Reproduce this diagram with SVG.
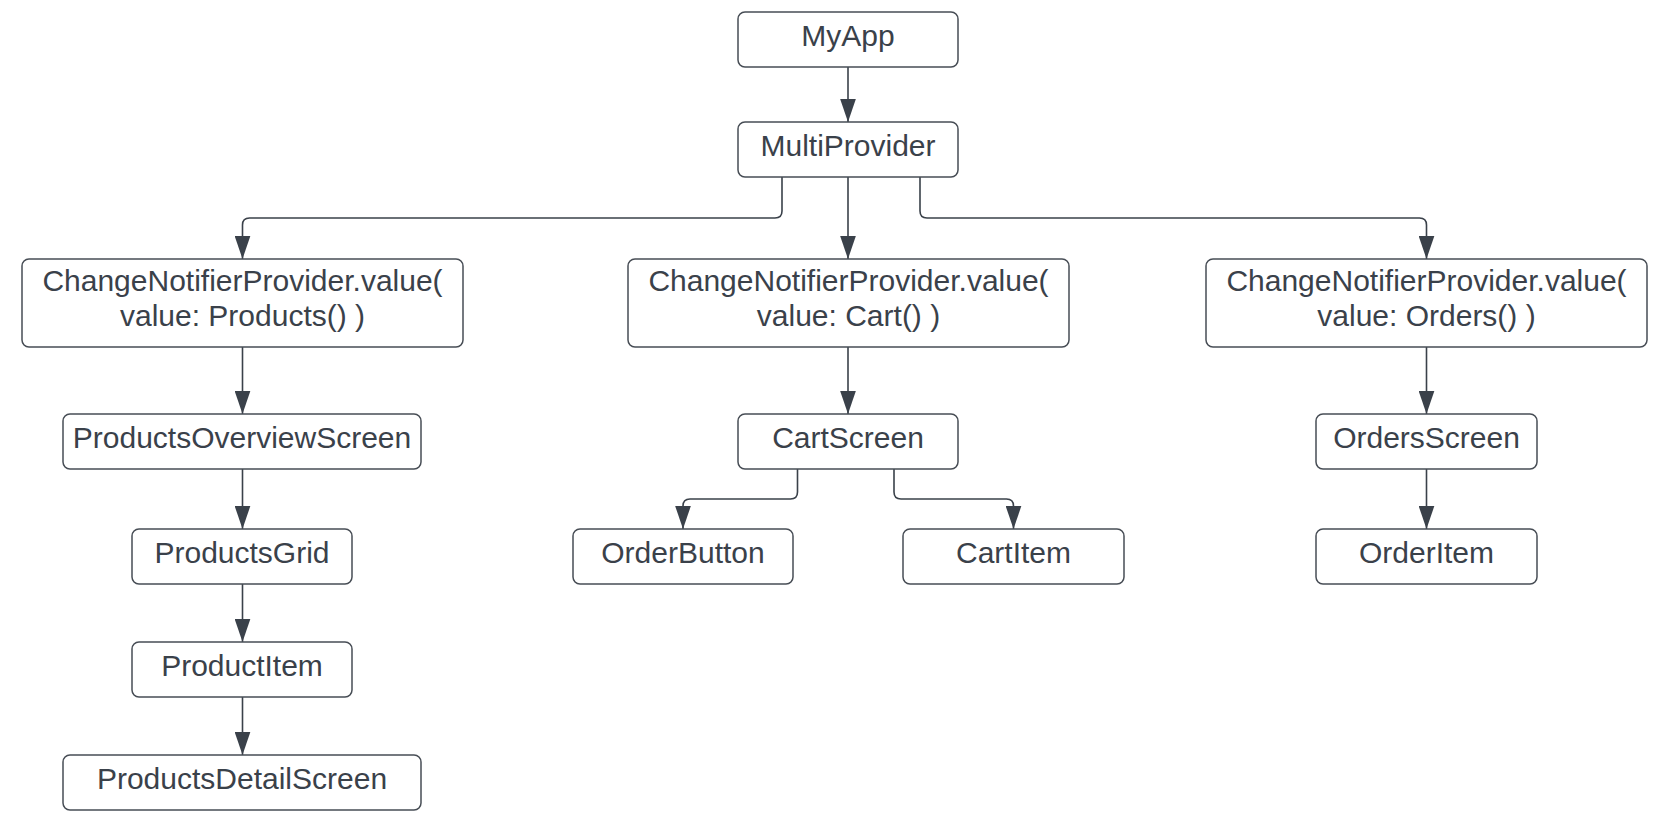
<svg xmlns="http://www.w3.org/2000/svg" width="1678" height="836" viewBox="0 0 1678 836">
<style>
.box{fill:#ffffff;stroke:#474d55;stroke-width:1.5}
.lbl{font-family:"Liberation Sans",Arial,sans-serif;font-size:30px;fill:#3a414a;text-anchor:middle}
.edge{fill:none;stroke:#3a414a;stroke-width:1.6}
</style>
<defs>
<marker id="arr" markerUnits="userSpaceOnUse" markerWidth="16" markerHeight="23" refX="7.5" refY="22" orient="0" viewBox="0 0 15 22">
<path d="M0,0 L15,0 L7.5,22 Z" fill="#3a414a"/>
</marker>
</defs>
<rect width="1678" height="836" fill="#ffffff"/>
<g id="connectors">
<path class="edge" marker-end="url(#arr)" d="M848,67 L848,122"/>
<path class="edge" marker-end="url(#arr)" d="M782,177 L782,211 Q782,218 775,218 L249.5,218 Q242.5,218 242.5,225 L242.5,259"/>
<path class="edge" marker-end="url(#arr)" d="M848,177 L848,259"/>
<path class="edge" marker-end="url(#arr)" d="M920,177 L920,211 Q920,218 927,218 L1419.5,218 Q1426.5,218 1426.5,225 L1426.5,259"/>
<path class="edge" marker-end="url(#arr)" d="M242.5,347 L242.5,414"/>
<path class="edge" marker-end="url(#arr)" d="M242.5,469 L242.5,529"/>
<path class="edge" marker-end="url(#arr)" d="M242.5,584 L242.5,642"/>
<path class="edge" marker-end="url(#arr)" d="M242.5,697 L242.5,755"/>
<path class="edge" marker-end="url(#arr)" d="M848,347 L848,414"/>
<path class="edge" marker-end="url(#arr)" d="M797.5,469 L797.5,492 Q797.5,499 790.5,499 L690,499 Q683,499 683,506 L683,529"/>
<path class="edge" marker-end="url(#arr)" d="M894,469 L894,492 Q894,499 901,499 L1006.5,499 Q1013.5,499 1013.5,506 L1013.5,529"/>
<path class="edge" marker-end="url(#arr)" d="M1426.5,347 L1426.5,414"/>
<path class="edge" marker-end="url(#arr)" d="M1426.5,469 L1426.5,529"/>
</g>
<g id="n-myapp"><rect class="box" x="738" y="12" width="220" height="55" rx="7"/><text class="lbl" x="848" y="46">MyApp</text></g>
<g id="n-multiprovider"><rect class="box" x="738" y="122" width="220" height="55" rx="7"/><text class="lbl" x="848" y="156">MultiProvider</text></g>
<g id="n-cnp-products"><rect class="box" x="22" y="259" width="441" height="88" rx="7"/><text class="lbl" x="242.5" y="291">ChangeNotifierProvider.value(</text><text class="lbl" x="242.5" y="326">value: Products() )</text></g>
<g id="n-cnp-cart"><rect class="box" x="628" y="259" width="441" height="88" rx="7"/><text class="lbl" x="848.5" y="291">ChangeNotifierProvider.value(</text><text class="lbl" x="848.5" y="326">value: Cart() )</text></g>
<g id="n-cnp-orders"><rect class="box" x="1206" y="259" width="441" height="88" rx="7"/><text class="lbl" x="1426.5" y="291">ChangeNotifierProvider.value(</text><text class="lbl" x="1426.5" y="326">value: Orders() )</text></g>
<g id="n-productsoverview"><rect class="box" x="63" y="414" width="358" height="55" rx="7"/><text class="lbl" x="242" y="448">ProductsOverviewScreen</text></g>
<g id="n-cartscreen"><rect class="box" x="738" y="414" width="220" height="55" rx="7"/><text class="lbl" x="848" y="448">CartScreen</text></g>
<g id="n-ordersscreen"><rect class="box" x="1316" y="414" width="221" height="55" rx="7"/><text class="lbl" x="1426.5" y="448">OrdersScreen</text></g>
<g id="n-productsgrid"><rect class="box" x="132" y="529" width="220" height="55" rx="7"/><text class="lbl" x="242" y="563">ProductsGrid</text></g>
<g id="n-orderbutton"><rect class="box" x="573" y="529" width="220" height="55" rx="7"/><text class="lbl" x="683" y="563">OrderButton</text></g>
<g id="n-cartitem"><rect class="box" x="903" y="529" width="221" height="55" rx="7"/><text class="lbl" x="1013.5" y="563">CartItem</text></g>
<g id="n-orderitem"><rect class="box" x="1316" y="529" width="221" height="55" rx="7"/><text class="lbl" x="1426.5" y="563">OrderItem</text></g>
<g id="n-productitem"><rect class="box" x="132" y="642" width="220" height="55" rx="7"/><text class="lbl" x="242" y="676">ProductItem</text></g>
<g id="n-productsdetail"><rect class="box" x="63" y="755" width="358" height="55" rx="7"/><text class="lbl" x="242" y="789">ProductsDetailScreen</text></g>
</svg>
